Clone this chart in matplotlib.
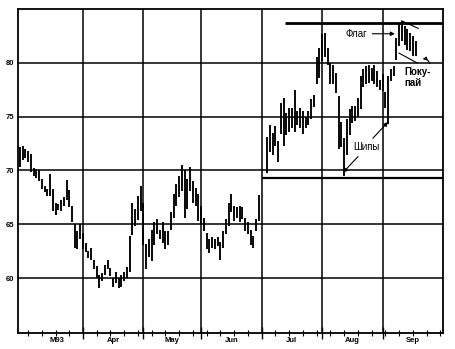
import matplotlib
matplotlib.use("Agg")
import matplotlib.pyplot as plt
import numpy as np

plt.rcParams['font.family'] = ['Liberation Sans', 'DejaVu Sans']

# ---- data: trading-day index (0 = 1 Mar 1993) ----
day_a = list(range(0, 88))
high_a = [72.2, 72.3, 72.0, 71.8, 71.5, 70.2, 70.1, 70.0, 69.2, 68.6,
          68.3, 69.7, 68.3, 67.0, 66.9, 67.3, 67.5, 69.1, 68.2, 66.7,
          65.0, 64.4, 65.0, 64.2, 63.3, 62.5, 62.8, 61.7, 61.1, 60.3,
          60.5, 61.2, 61.7, 60.9, 60.0, 60.6, 60.0, 60.3, 60.6, 61.0,
          63.9, 67.0, 66.4, 67.6, 68.6, 67.0, 63.2, 63.6, 64.5, 65.2,
          65.5, 64.5, 65.2, 64.4, 64.4, 66.1, 67.8, 68.7, 69.5, 70.5,
          70.0, 69.2, 70.3, 69.0, 68.4, 67.8, 66.7, 65.6, 64.2, 63.6,
          63.8, 63.6, 63.8, 63.4, 64.4, 65.5, 67.0, 67.8, 66.7, 66.6,
          66.7, 66.6, 65.6, 65.2, 64.5, 63.9, 65.5, 67.7]
low_a = [70.3, 71.0, 71.2, 70.8, 69.9, 69.5, 69.3, 69.0, 68.3, 68.0,
         67.6, 67.6, 66.2, 65.9, 66.3, 66.2, 66.7, 67.3, 66.6, 65.2,
         62.8, 62.7, 63.6, 62.7, 62.4, 61.9, 61.7, 60.8, 60.0, 59.1,
         59.7, 60.3, 60.8, 60.2, 59.2, 59.5, 59.1, 59.2, 59.7, 60.0,
         60.6, 64.0, 64.8, 65.4, 66.2, 63.1, 60.8, 62.0, 61.6, 63.1,
         64.1, 63.6, 63.3, 62.7, 63.1, 64.5, 65.6, 66.7, 67.5, 68.1,
         65.6, 66.4, 68.1, 67.0, 66.7, 65.3, 65.0, 64.4, 62.7, 62.3,
         62.8, 62.7, 63.0, 61.7, 62.8, 64.1, 64.8, 66.1, 65.3, 65.6,
         65.2, 65.5, 64.4, 64.1, 63.1, 62.8, 64.4, 65.3]

day_b = list(range(90, 145))
high_b = [73.1, 74.2, 73.5, 74.1, 72.7, 76.3, 76.7, 75.3, 75.8, 75.8,
          77.5, 75.5, 75.8, 75.5, 75.0, 75.5, 76.6, 77.0, 80.5, 81.4,
          82.7, 82.8, 81.4, 80.0, 79.8, 79.1, 76.9, 74.5, 73.0, 74.8,
          75.7, 76.0, 76.0, 76.7, 78.8, 79.4, 79.7, 79.8, 79.5, 79.8,
          79.2, 78.4, 79.0, 77.3, 78.8, 79.4, 79.7, 82.3, 83.7, 83.9,
          83.4, 83.1, 82.8, 82.5, 82.0]
low_b = [69.8, 71.7, 71.4, 72.3, 70.8, 73.4, 72.3, 73.3, 73.6, 73.9,
         73.6, 74.2, 73.9, 73.4, 73.9, 74.2, 74.8, 75.9, 78.0, 78.6,
         80.2, 80.5, 79.8, 78.0, 78.0, 77.2, 72.0, 72.2, 69.5, 71.4,
         73.3, 74.4, 74.6, 75.0, 75.7, 77.8, 78.0, 78.1, 78.3, 78.0,
         77.8, 77.5, 77.4, 75.8, 74.3, 78.3, 78.8, 80.3, 81.6, 82.0,
         81.7, 81.2, 81.1, 80.6, 80.6]

month_bounds = [0, 23, 45, 66, 88, 110, 132, 154]
month_labels = ['M93', 'Apr', 'May', 'Jun', 'Jul', 'Aug', 'Sep']
price_ticks = [60, 65, 70, 75, 80]
resistance = 83.7
support = 69.3
flag_top = [83.9, 83.2]
flag_bottom = [80.9, 80.0]

# ---- figure ----
fig = plt.figure(figsize=(4.56, 3.49), dpi=100)
ax = fig.add_axes([18/456, 16/349, 425/456, 324/349])
ax.set_xlim(-0.65, 154)
ax.set_ylim(54.9, 85.0)

ax.vlines(day_a, low_a, high_a, color='black', lw=1.35)
ax.vlines(day_b, low_b, high_b, color='black', lw=1.35)

# grid
ax.set_xticks(month_bounds[1:-1])
ax.set_xticks(np.arange(3, 154, 5), minor=True)
ax.set_xticklabels([])
ax.set_yticks(price_ticks)
ax.set_yticklabels([str(v) for v in price_ticks], fontsize=5.5, fontweight='bold')
ax.grid(True, which='major', color='black', lw=1.1)
ax.tick_params(axis='y', length=0, pad=3)
ax.tick_params(axis='x', which='major', direction='inout', length=8, width=1.0)
ax.tick_params(axis='x', which='minor', direction='inout', length=5, width=0.8)
for s in ax.spines.values():
    s.set_linewidth(1.3)
    s.set_color('black')

for i, lab in enumerate(month_labels):
    mid = (month_bounds[i] + month_bounds[i + 1]) / 2
    if i == 0:
        mid += 2
    ax.text(mid, -0.012, lab, transform=ax.get_xaxis_transform(),
            ha='center', va='top', fontsize=5.5, fontweight='bold')

# pattern lines
ax.hlines(resistance, 96.5, 154, color='black', lw=2.0)
ax.hlines(support, 88, 154, color='black', lw=1.6)
ax.plot([139, 145], flag_top, color='black', lw=0.8)
ax.plot([138, 144.5], flag_bottom, color='black', lw=0.8)

# annotations
ax.annotate('Флаг', xy=(136.5, 82.7), xytext=(122.3, 82.7),
            ha='center', va='center', fontsize=7,
            arrowprops=dict(arrowstyle='-|>', lw=0.8, color='black',
                            mutation_scale=6, shrinkA=2, shrinkB=0))
ax.text(139.8, 78.6, 'Поку-\nпай', ha='left', va='center', fontsize=7,
        fontweight='bold', linespacing=1.1)
ax.annotate('', xy=(145.6, 80.3), xytext=(149.3, 79.7),
            arrowprops=dict(arrowstyle='-|>', lw=0.8, color='black',
                            mutation_scale=5, connectionstyle='arc3,rad=0.6'))
ax.text(126.3, 72.2, 'Шипы', ha='center', va='center', fontsize=7)
ax.annotate('', xy=(117.6, 69.8), xytext=(123.1, 71.3),
            arrowprops=dict(arrowstyle='-|>', lw=0.8, color='black',
                            mutation_scale=6, shrinkA=0, shrinkB=0))
ax.annotate('', xy=(134.0, 74.5), xytext=(128.5, 73.0),
            arrowprops=dict(arrowstyle='-|>', lw=0.8, color='black',
                            mutation_scale=6, shrinkA=0, shrinkB=0))

fig.savefig('out.png', dpi=100)
